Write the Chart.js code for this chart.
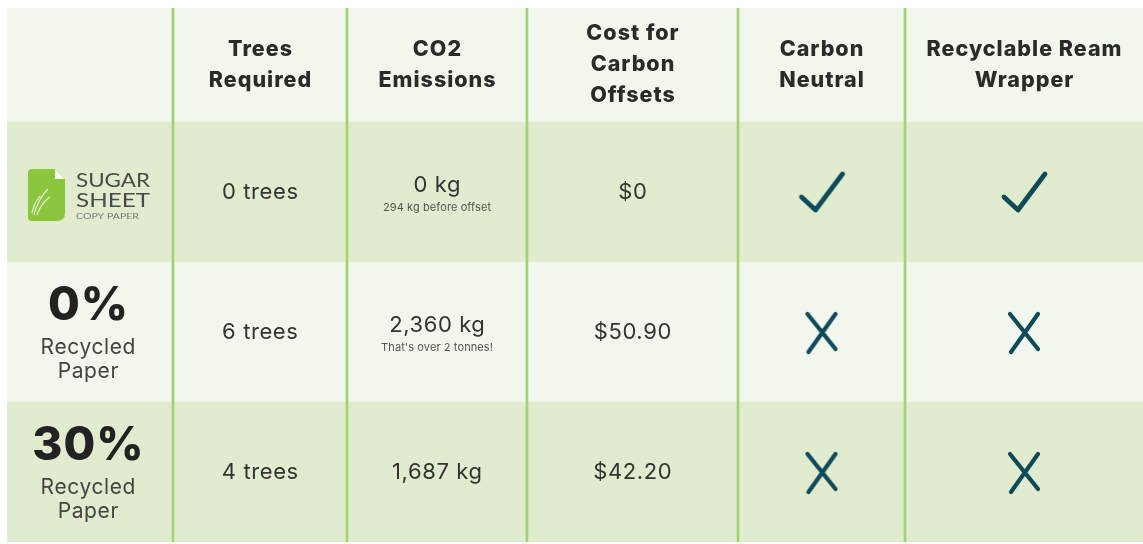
<!DOCTYPE html>
<html><head><meta charset="utf-8">
<script src="https://cdn.jsdelivr.net/npm/chart.js@4.4.0/dist/chart.umd.min.js"></script>
<style>html,body{margin:0;padding:0;background:#fff}#wrap{width:1143px;height:544px;position:relative}</style>
</head><body><div id="wrap"><canvas id="c"></canvas></div>
<script>
// ---------- data ----------
const columnHeaders = [['Trees','Required'],['CO2','Emissions'],['Cost for','Carbon','Offsets'],['Carbon','Neutral'],['Recyclable Ream','Wrapper']];
const products = ['Sugar Sheet Copy Paper','0% Recycled Paper','30% Recycled Paper'];
const recycledPct = [null, 0, 30];
const treesRequired = [0, 6, 4];
const co2Kg = [0, 2360, 1687];
const co2Notes = ['294 kg before offset', "That's over 2 tonnes!", ''];
const offsetCostUsd = [0, 50.90, 42.20];
const carbonNeutral = [true, false, false];
const recyclableWrapper = [true, false, false];

// ---------- layout (not data) ----------
const colWidths = [166, 174, 180, 211, 167, 238];
const rowHeights = [114, 140, 140, 140];
const cum = a => a.reduce((o,v)=>{o.push(o[o.length-1]+v);return o;},[0]);
const colEdges = cum(colWidths), rowEdges = cum(rowHeights);
const totalW = colEdges[colEdges.length-1], totalH = rowEdges[rowEdges.length-1];
const rowColors = ['#f2f7ed','#e1ecce','#f2f7ed','#e1ecce'];
const LINE = '#a2d372';
const INK = '#0f4a5a';

function symbolCanvas(ok){
  const c=document.createElement('canvas');
  const w= ok?52:38, h=46; c.width=w; c.height=h;
  const g=c.getContext('2d'); g.strokeStyle=INK; g.lineWidth=ok?4.8:4.2; g.lineCap='round'; g.lineJoin='round';
  const ox=w/2, oy=h/2; g.beginPath();
  if(ok){ g.moveTo(ox-20,oy+5); g.lineTo(ox-6,oy+18); g.lineTo(ox+21,oy-18); }
  else { g.moveTo(ox-14,oy-18); g.lineTo(ox+14,oy+17); g.moveTo(ox+14,oy-18); g.lineTo(ox-13,oy+20); }
  g.stroke(); return c;
}
const checkImg = symbolCanvas(true), crossImg = symbolCanvas(false);

const midX = j => (colEdges[j]+colEdges[j+1])/2;
const midY = r => (rowEdges[r]+rowEdges[r+1])/2;

const rowBars = rowColors.map((c,r)=>({x: totalW/2, y:[rowEdges[r], rowEdges[r+1]]}));
const sepBars = colEdges.slice(1,-1).map(v=>({x:v, y:[0,totalH]}));
const symbolPts = [];
[carbonNeutral, recyclableWrapper].forEach((arr,k)=>arr.forEach((ok,r)=>symbolPts.push({x:midX(4+k), y:midY(r+1), ok})));

function txt(ctx, t, x, y, font, spacing){
  ctx.font = font; ctx.letterSpacing = (spacing||0)+'px';
  const w = ctx.measureText(t).width;
  ctx.textAlign='left'; ctx.fillText(t, x - (w - (spacing||0))/2, y);
}
function fitText(ctx, t, x, y, w){
  ctx.letterSpacing='0px';
  const m = ctx.measureText(t).width; ctx.save(); ctx.translate(x,y); ctx.scale(w/m,1);
  ctx.textAlign='left'; ctx.fillText(t,0,0); ctx.restore();
}

const tablePlugin = {
  id:'tableText',
  afterDraw(chart){
    const ctx=chart.ctx, xs=chart.scales.x, ys=chart.scales.y;
    const px = j => xs.getPixelForValue(midX(j)), py = r => ys.getPixelForValue(midY(r));
    ctx.save(); ctx.textBaseline='middle';
    // header
    ctx.fillStyle='#2a2a2a';
    columnHeaders.forEach((lines,j)=>{
      const x=px(j+1), y=py(0);
      lines.forEach((t,k)=>txt(ctx, t, x, y+(k-(lines.length-1)/2)*31, '800 21.5px Inter', 1));
    });
    // body
    const BODY='400 22px Inter';
    for(let r=0;r<products.length;r++){
      const y=py(r+1);
      ctx.fillStyle='#333';
      txt(ctx, treesRequired[r]+' trees', px(1), y, BODY, 0.6);
      const kg = co2Kg[r].toLocaleString('en-US')+' kg';
      if(co2Notes[r]){
        txt(ctx, kg, px(2), y-7, BODY, 0.6);
        ctx.fillStyle='#555'; txt(ctx, co2Notes[r], px(2), y+16, '400 11px Inter', 0.1);
      } else txt(ctx, kg, px(2), y, BODY, 0.6);
      ctx.fillStyle='#333';
      const cost = offsetCostUsd[r]===0 ? '$0' : '$'+offsetCostUsd[r].toFixed(2);
      txt(ctx, cost, px(3), y, BODY, 0.6);
      // row label
      if(recycledPct[r]===null){
        drawLogo(ctx, xs.getPixelForValue(colEdges[0]), y);
      } else {
        ctx.fillStyle='#222';
        txt(ctx, recycledPct[r]+'%', px(0)-2, y-26, '800 46px Inter', 1);
        ctx.fillStyle='#444';
        txt(ctx, 'Recycled', px(0)-2, y+16, '400 21px Inter', 0.6);
        txt(ctx, 'Paper', px(0)-2, y+40, '400 21px Inter', 0.6);
      }
    }
    ctx.restore();
  }
};

function drawLogo(ctx, left, cy){
  const x0=left+21, y0=cy-23, w=37, h=52;
  ctx.save();
  ctx.fillStyle='#8cc63f';
  ctx.beginPath();
  ctx.moveTo(x0+4,y0); ctx.lineTo(x0+w-10,y0); ctx.lineTo(x0+w,y0+10); ctx.lineTo(x0+w,y0+h-8);
  ctx.quadraticCurveTo(x0+w,y0+h,x0+w-8,y0+h); ctx.lineTo(x0+4,y0+h);
  ctx.quadraticCurveTo(x0,y0+h,x0,y0+h-4); ctx.lineTo(x0,y0+4); ctx.quadraticCurveTo(x0,y0,x0+4,y0);
  ctx.fill();
  ctx.fillStyle='#f4f9ee';
  ctx.beginPath(); ctx.moveTo(x0+w-10,y0); ctx.lineTo(x0+w-10,y0+10); ctx.lineTo(x0+w,y0+10); ctx.fill();
  ctx.strokeStyle='rgba(255,255,255,0.85)'; ctx.lineWidth=1.1;
  ctx.beginPath(); ctx.moveTo(x0+6,y0+46); ctx.quadraticCurveTo(x0+10,y0+30,x0+20,y0+20);
  ctx.moveTo(x0+9,y0+46); ctx.quadraticCurveTo(x0+13,y0+34,x0+22,y0+28);
  ctx.moveTo(x0+4,y0+44); ctx.quadraticCurveTo(x0+6,y0+34,x0+12,y0+27); ctx.stroke();
  ctx.fillStyle='#4a4a4a'; ctx.textBaseline='middle'; ctx.font='400 19px Lato';
  fitText(ctx,'SUGAR', x0+48, cy-11, 74);
  fitText(ctx,'SHEET', x0+48, cy+9, 74);
  ctx.fillStyle='#777'; ctx.font='400 8px Lato';
  fitText(ctx,'COPY PAPER', x0+48, cy+24, 63);
  ctx.restore();
}

new Chart(document.getElementById('c'), {
  type:'bar',
  data:{ datasets:[
    { type:'bar', data: rowBars, backgroundColor: rowColors, barThickness: totalW, borderWidth:0, order:3, grouped:false },
    { type:'bar', data: sepBars, backgroundColor: LINE, barThickness: 2, borderWidth:0, order:2, grouped:false },
    { type:'scatter', data: symbolPts, pointStyle: c => c.raw && c.raw.ok ? checkImg : crossImg, order:1 }
  ]},
  options:{
    responsive:true, maintainAspectRatio:false, animation:false,
    layout:{ autoPadding:false, padding:{ left:7, top:8, right:0, bottom:2 } },
    plugins:{ legend:{display:false}, tooltip:{enabled:false} },
    scales:{
      x:{ type:'linear', min:0, max:totalW, offset:false, display:false },
      y:{ type:'linear', min:0, max:totalH, reverse:true, display:false }
    }
  },
  plugins:[tablePlugin]
});
</script></body></html>
